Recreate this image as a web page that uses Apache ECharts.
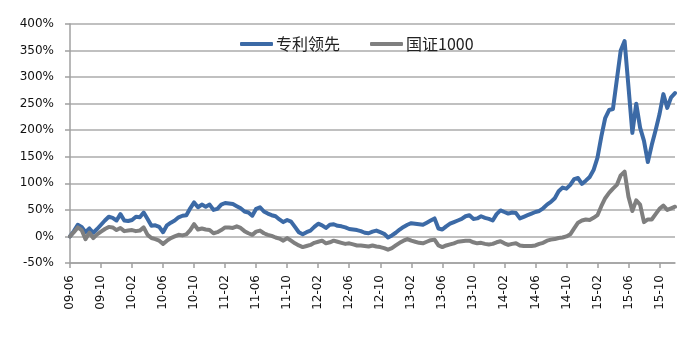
<!DOCTYPE html>
<html>
<head>
<meta charset="utf-8">
<script src="https://cdn.jsdelivr.net/npm/echarts@6/dist/echarts.min.js"></script>
<style>
  html, body { margin: 0; padding: 0; background: #fff; }
  #chart { width: 700px; height: 343px; }
</style>
</head>
<body>
<div id="chart"></div>
<script>
// Cumulative return, two observations per month from 2009-06 to 2015-12 (%)
const seriesNames = ['专利领先', '国证1000'];

const patentLeader = [
  0, 10, 22, 18, 8, 15, 7, 14, 22, 30,
  37, 35, 30, 42, 30, 29, 31, 37, 36, 45,
  33, 20, 21, 18, 8, 21, 26, 30, 36, 39,
  40, 53, 64, 55, 60, 56, 60, 50, 52, 60,
  63, 62, 61, 57, 53, 47, 45, 39, 52, 55,
  47, 43, 40, 38, 32, 27, 31, 28, 18, 8,
  4, 8, 11, 18, 24, 21, 16, 22, 23, 20,
  19, 17, 14, 13, 12, 10, 7, 6, 9, 11,
  8, 5, -2, 2, 7, 13, 18, 22, 25, 24,
  23, 22, 26, 30, 34, 15, 13, 19, 24, 27,
  30, 33, 38, 40, 33, 34, 38, 35, 33, 30,
  42, 49, 46, 43, 45, 44, 34, 37, 40, 43,
  46, 48, 53, 60, 65, 72, 85, 92, 90, 97,
  108, 110, 99, 105, 112, 125, 148, 188, 223, 238,
  240, 295, 350, 368, 282, 195, 250, 205, 180, 140,
  172, 200, 230, 268, 242, 262, 270
];

const csi1000 = [
  0, 8, 17, 12, -5, 7, -3, 4, 9, 14,
  18, 17, 12, 16, 10, 11, 12, 10, 11, 17,
  3, -3, -5, -8, -14, -8, -3, 0, 3, 2,
  4, 12, 23, 13, 15, 13, 12, 6, 8, 12,
  17, 17, 16, 19, 16, 10, 6, 3, 9, 11,
  6, 3, 1, -2, -4, -8, -3, -8, -13, -17,
  -20, -18, -16, -12, -10, -8, -13, -11, -8, -10,
  -12, -14, -13, -15, -17, -17, -18, -19, -17, -19,
  -20, -22, -25, -22, -17, -12, -8, -5, -8, -10,
  -12, -13, -10, -7, -6, -17, -20, -17, -15, -13,
  -10, -9, -8, -8, -11, -13, -12, -14, -15, -14,
  -11, -9, -13, -16, -14, -13, -17, -18, -18, -18,
  -17, -14, -12, -8, -6, -5, -3, -2, 0, 4,
  15, 26, 30, 32, 31, 35, 40, 57, 72, 82,
  90, 97, 115, 122, 75, 48, 68, 60, 27, 32,
  32, 42, 52, 58, 50, 53, 56
];

// x-axis labels, one every four months
const tickLabels = [
  '09-06', '09-10', '10-02', '10-06', '10-10', '11-02', '11-06', '11-10',
  '12-02', '12-06', '12-10', '13-02', '13-06', '13-10', '14-02', '14-06',
  '14-10', '15-02', '15-06', '15-10'
];

// Observation periods: first and second half of each month, e.g. "09-06上", "09-06下"
const categories = [];
for (let k = 0; k < patentLeader.length; k++) {
  const m = Math.floor(k / 2);
  const yy = 9 + Math.floor((5 + m) / 12);
  const mm = ((5 + m) % 12) + 1;
  categories.push(String(yy).padStart(2, '0') + '-' + String(mm).padStart(2, '0') + (k % 2 ? '下' : '上'));
}

const yTicks = { min: -50, max: 400, interval: 50 };
const POINTS_PER_LABEL = 8;
const AXIS_GRAY = '#a0a0a0';

const chart = echarts.init(document.getElementById('chart'), null, { renderer: 'canvas' });
chart.setOption({
  animation: false,
  backgroundColor: '#ffffff',
  color: ['#3c6aa6', '#7f7f7f'],
  grid: { left: 70, right: 25, top: 24, bottom: 80 },
  legend: {
    data: seriesNames,
    left: 235,
    top: 31,
    itemWidth: 33,
    itemHeight: 4,
    itemGap: 30,
    icon: 'roundRect',
    textStyle: { fontSize: 16, color: '#222', fontFamily: 'Noto Sans CJK SC', padding: [0, 0, 0, -2] }
  },
  xAxis: {
    type: 'category',
    data: categories,
    boundaryGap: false,
    axisLine: { onZero: false, lineStyle: { color: AXIS_GRAY, width: 1.5 } },
    axisTick: {
      show: true,
      interval: POINTS_PER_LABEL - 1,
      length: 5,
      lineStyle: { color: AXIS_GRAY, width: 1.5 }
    },
    axisLabel: {
      interval: POINTS_PER_LABEL - 1,
      rotate: 90,
      margin: 12,
      fontSize: 12,
      color: '#111',
      fontFamily: 'DejaVu Sans',
      formatter: function (value) {
        return value.slice(0, 5);
      }
    },
    splitLine: { show: false }
  },
  yAxis: {
    type: 'value',
    min: yTicks.min,
    max: yTicks.max,
    interval: yTicks.interval,
    axisLine: { show: true, lineStyle: { color: AXIS_GRAY, width: 1.5 } },
    axisTick: { show: true, length: 5, lineStyle: { color: AXIS_GRAY, width: 1.5 } },
    axisLabel: {
      formatter: '{value}%',
      fontSize: 12,
      color: '#111',
      margin: 16,
      fontFamily: 'DejaVu Sans'
    },
    splitLine: { show: true, lineStyle: { color: '#ababab', width: 1.5 } }
  },
  series: [
    {
      name: seriesNames[0],
      type: 'line',
      data: patentLeader,
      showSymbol: false,
      lineStyle: { width: 4, color: '#3c6aa6', cap: 'round', join: 'round' }
    },
    {
      name: seriesNames[1],
      type: 'line',
      data: csi1000,
      showSymbol: false,
      lineStyle: { width: 4, color: '#7f7f7f', cap: 'round', join: 'round' }
    }
  ]
});
</script>
</body>
</html>
